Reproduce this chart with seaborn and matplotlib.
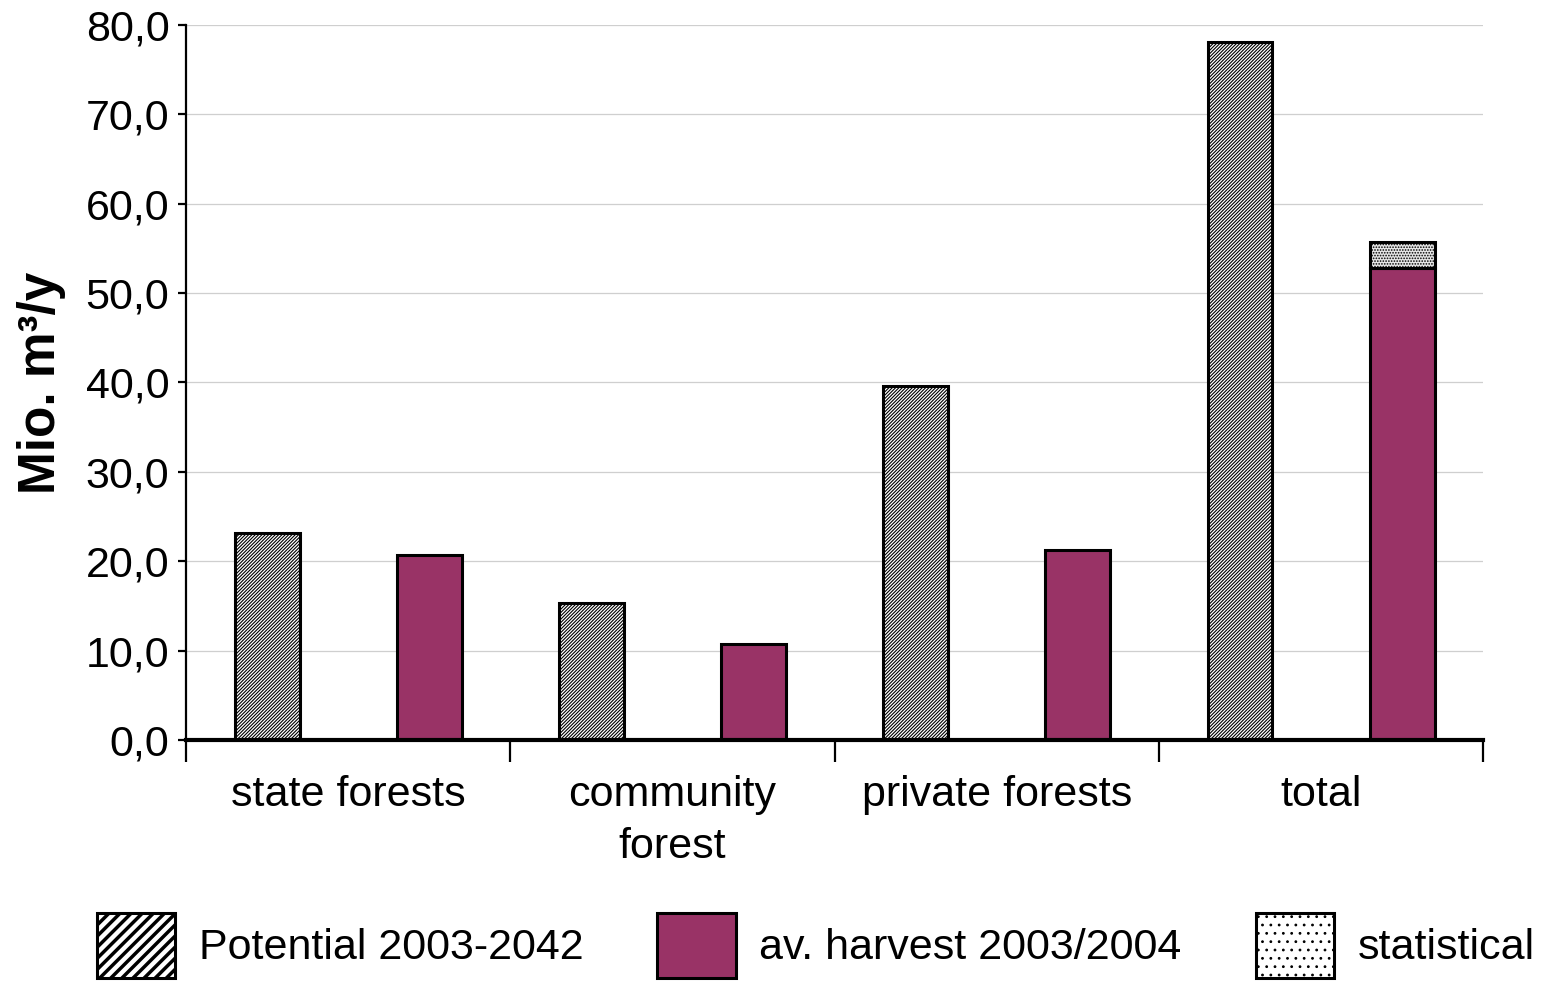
import matplotlib
matplotlib.use("Agg")
import matplotlib.pyplot as plt
import matplotlib.patches as mpatches
from matplotlib.ticker import FuncFormatter, FixedLocator
import seaborn as sns
import pandas as pd

# Annual volumes, million m³ per year
categories = ["state forests", "community\nforest", "private forests", "total"]
potential = [23.2, 15.3, 39.6, 78.1]
harvest = [20.7, 10.7, 21.3, 52.8]
statistical_total = 2.9          # statistical addition on top of the total harvest
series_names = ["Potential 2003-2042", "av. harvest 2003/2004", "statistical"]
y_ticks = [0, 10, 20, 30, 40, 50, 60, 70, 80]

df = pd.DataFrame({
    "category": categories * 2,
    "series": [series_names[0]] * len(categories) + [series_names[1]] * len(categories),
    "value": potential + harvest,
})

sns.set_theme(style="white")
plt.rcParams["font.family"] = ["Liberation Sans", "DejaVu Sans"]
plt.rcParams["text.color"] = "black"
plt.rcParams["axes.labelcolor"] = "black"
plt.rcParams["xtick.color"] = "black"
plt.rcParams["ytick.color"] = "black"
plt.rcParams["hatch.linewidth"] = 0.8

FS = 31
PLUM = "#993366"

fig = plt.figure(figsize=(15.48, 9.82), dpi=100)
ax = fig.add_axes([0.1202, 0.2464, 0.838, 0.7283])

sns.barplot(data=df, x="category", y="value", hue="series",
            palette=["white", PLUM], saturation=1, width=1.0, gap=0.6,
            edgecolor="black", linewidth=2.2, legend=False, ax=ax, zorder=3)

pot_bars, harv_bars = ax.containers[0], ax.containers[1]
for p in pot_bars:
    p.set_hatch("//////////")
    p.set_facecolor("white")

# statistical share stacked on the total harvest bar
top = harv_bars[-1]
ax.bar(top.get_x() + top.get_width() / 2, statistical_total,
       width=top.get_width(), bottom=harvest[-1],
       facecolor="#e6e6e6", edgecolor="black", linewidth=2.2,
       hatch="......", zorder=3)

ax.set_xlim(-0.5, len(categories) - 0.5)
ax.set_ylim(0, 80)
ax.yaxis.set_major_locator(FixedLocator(y_ticks))
ax.yaxis.set_major_formatter(FuncFormatter(lambda v, _: f"{v:.1f}".replace(".", ",")))
ax.grid(axis="y", color="#cfcfcf", linewidth=0.9, zorder=0)
ax.set_axisbelow(True)

for s in ["top", "right"]:
    ax.spines[s].set_visible(False)
ax.spines["left"].set_color("black")
ax.spines["left"].set_linewidth(1.6)
ax.spines["bottom"].set_color("black")
ax.spines["bottom"].set_linewidth(3.0)
ax.spines["bottom"].set_zorder(4)

ax.tick_params(axis="y", which="major", direction="out", length=6, width=1.6,
               color="black", labelsize=FS, pad=6, left=True)
ax.set_xticks(range(len(categories)))
ax.set_xticklabels(categories)
ax.set_xticks([i - 0.5 for i in range(len(categories) + 1)], minor=True)
ax.tick_params(axis="x", which="major", length=0, labelsize=FS, pad=25)
ax.tick_params(axis="x", which="minor", direction="out", length=16, width=1.6,
               color="black", bottom=True)
for lbl in ax.get_xticklabels():
    lbl.set_linespacing(1.38)

ax.set_xlabel("")
ax.set_ylabel("Mio. m³/y", fontsize=37, fontweight="bold", labelpad=14)

handles = [
    mpatches.Patch(facecolor="white", edgecolor="black", hatch="///", linewidth=2.2),
    mpatches.Patch(facecolor=PLUM, edgecolor="black", linewidth=2.2),
    mpatches.Patch(facecolor="white", edgecolor="black", hatch="..", linewidth=2.2),
]
leg = fig.legend(handles, series_names, loc="center", bbox_to_anchor=(0.527, 0.037),
                 ncol=3, frameon=False, fontsize=FS, handlelength=1.82, handleheight=1.95,
                 handletextpad=0.55, columnspacing=1.72, borderaxespad=0)
stripe = leg.get_patches()[0]
if hasattr(stripe, "set_hatch_linewidth"):
    stripe.set_hatch_linewidth(2.5)

fig.savefig("out.png", dpi=100)
